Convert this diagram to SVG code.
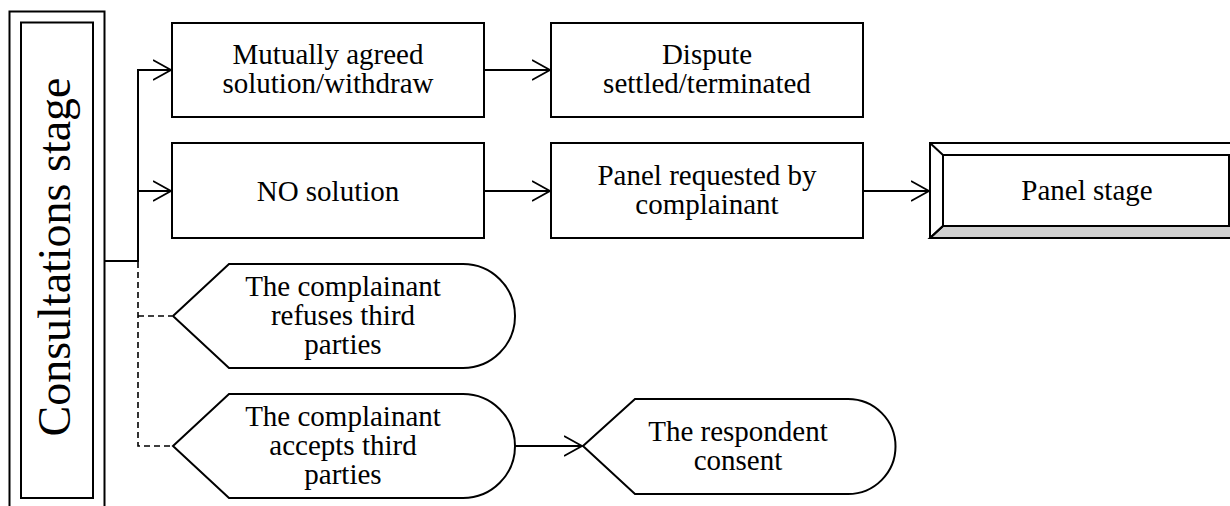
<svg xmlns="http://www.w3.org/2000/svg" width="1230" height="506" viewBox="0 0 1230 506">
<style>
.s{fill:#fff;stroke:#000;stroke-width:2}
.t{font-family:"Liberation Serif","Tinos","Times New Roman","DejaVu Serif",serif;font-size:29px;fill:#000;text-anchor:middle}
.c{fill:none;stroke:#000;stroke-width:2}
.d{fill:none;stroke:#000;stroke-width:1.6;stroke-dasharray:6,4}
</style>
<defs>
<marker id="a" markerWidth="20" markerHeight="22" refX="18" refY="11" orient="auto" markerUnits="userSpaceOnUse">
<path d="M0,1 L18,11 L0,21" fill="none" stroke="#000" stroke-width="1.8"/>
</marker>
</defs>
<rect width="1230" height="506" fill="#fff"/>
<g id="consultations">
<rect class="s" x="9.5" y="11.5" width="95" height="510"/>
<rect class="s" x="21" y="22.5" width="72" height="475.5"/>
<text class="t" transform="translate(70,257) rotate(-90)" style="font-size:46px">Consultations stage</text>
</g>
<g id="connectors">
<polyline class="c" points="104.5,261 138,261 138,70 171,70" marker-end="url(#a)"/>
<polyline class="c" points="138,191 171,191" marker-end="url(#a)"/>
<polyline class="d" points="138,262 138,446 172,446"/>
<polyline class="d" points="138,316 172,316"/>
<line class="c" x1="484" y1="70" x2="550" y2="70" marker-end="url(#a)"/>
<line class="c" x1="484" y1="191" x2="550" y2="191" marker-end="url(#a)"/>
<line class="c" x1="863" y1="191" x2="929" y2="191" marker-end="url(#a)"/>
<line class="c" x1="515" y1="446" x2="582" y2="446" marker-end="url(#a)"/>
</g>
<g id="mutual">
<rect class="s" x="172" y="23" width="312" height="94"/>
<text class="t" x="328" y="64">Mutually agreed</text>
<text class="t" x="328" y="93">solution/withdraw</text>
</g>
<g id="dispute">
<rect class="s" x="551" y="23" width="312" height="94"/>
<text class="t" x="707" y="64">Dispute</text>
<text class="t" x="707" y="93">settled/terminated</text>
</g>
<g id="nosolution">
<rect class="s" x="172" y="143" width="312" height="95"/>
<text class="t" x="328" y="201">NO solution</text>
</g>
<g id="panelrequested">
<rect class="s" x="551" y="143" width="312" height="95"/>
<text class="t" x="707" y="185">Panel requested by</text>
<text class="t" x="707" y="214">complainant</text>
</g>
<g id="panelstage">
<rect class="s" x="930" y="143" width="312" height="95"/>
<polygon points="943,226 1242,226 1242,238 930,238" fill="#d0d0d0" stroke="#000" stroke-width="2"/>
<rect class="s" x="943" y="155" width="286" height="71"/>
<line class="c" x1="930" y1="143" x2="943" y2="155"/>
<line class="c" x1="930" y1="238" x2="943" y2="226"/>
<text class="t" x="1087" y="200">Panel stage</text>
</g>
<g id="refuses">
<path class="s" d="M173,316 L229,264 L463,264 A52,52 0 0 1 463,368 L229,368 Z"/>
<text class="t" x="343" y="296">The complainant</text>
<text class="t" x="343" y="325">refuses third</text>
<text class="t" x="343" y="354">parties</text>
</g>
<g id="accepts">
<path class="s" d="M173,446 L229,394 L463,394 A52,52 0 0 1 463,498 L229,498 Z"/>
<text class="t" x="343" y="426">The complainant</text>
<text class="t" x="343" y="455">accepts third</text>
<text class="t" x="343" y="484">parties</text>
</g>
<g id="respondent">
<path class="s" d="M583,446 L635,399 L848,399 A47.5,47.5 0 0 1 848,494 L635,494 Z"/>
<text class="t" x="738" y="441">The respondent</text>
<text class="t" x="738" y="470">consent</text>
</g>
</svg>
